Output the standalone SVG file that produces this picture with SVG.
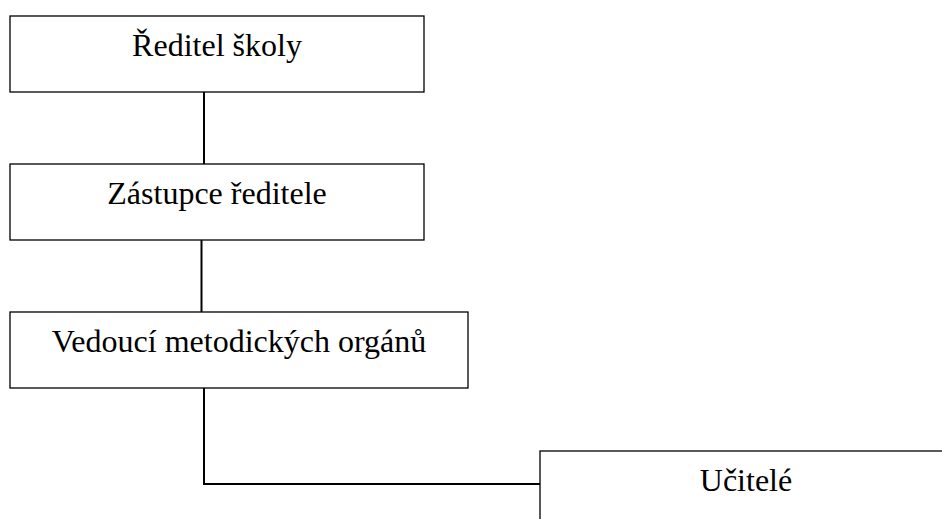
<svg xmlns="http://www.w3.org/2000/svg" width="942" height="519" viewBox="0 0 942 519">
<style>
.box{fill:#fff;stroke:#000;stroke-width:1.3}
.lbl{font-family:"Liberation Serif","Times New Roman",serif;font-size:32px;fill:#000;text-anchor:middle}
.conn{stroke:#000;stroke-width:2;fill:none}
</style>
<rect width="942" height="519" fill="#fff"/>
<g id="connectors">
<line class="conn" x1="204" y1="92" x2="204" y2="164"/>
<line class="conn" x1="201.5" y1="240" x2="201.5" y2="312"/>
<polyline class="conn" points="204,388 204,484 540,484"/>
</g>
<g id="reditel">
<rect class="box" x="10" y="16" width="414" height="76"/>
<text class="lbl" x="217" y="56">Ředitel školy</text>
</g>
<g id="zastupce">
<rect class="box" x="10" y="164" width="414" height="76"/>
<text class="lbl" x="217" y="204">Zástupce ředitele</text>
</g>
<g id="vedouci">
<rect class="box" x="10" y="312" width="458" height="76"/>
<text class="lbl" x="239" y="352">Vedoucí metodických orgánů</text>
</g>
<g id="ucitele">
<rect class="box" x="540" y="451" width="412" height="76"/>
<text class="lbl" x="746" y="491">Učitelé</text>
</g>
</svg>
